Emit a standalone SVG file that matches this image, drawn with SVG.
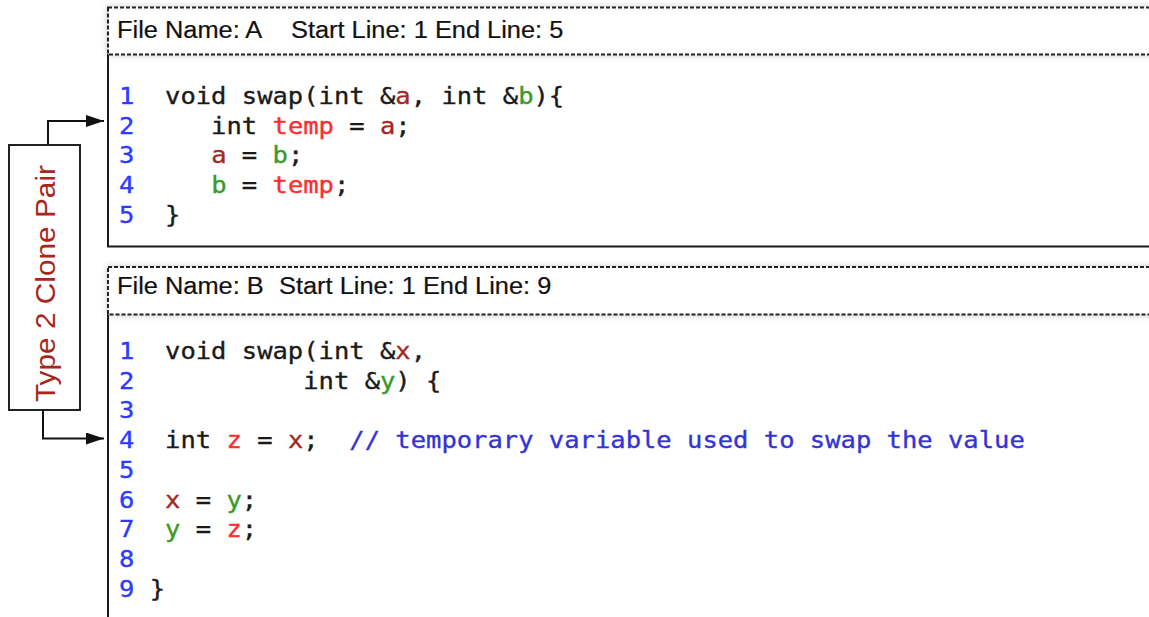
<svg xmlns="http://www.w3.org/2000/svg" width="1149" height="617" viewBox="0 0 1149 617">
  <style>
    .hdr { font-family: "Liberation Sans", Arial, sans-serif; font-size: 23.3px; fill: #111111; stroke: #111111; stroke-width: 0.2; }
    .code { font-family: "DejaVu Sans Mono", "Liberation Mono", monospace; font-size: 23.4px; fill: #1a1a1a; stroke: #1a1a1a; stroke-width: 0.35; white-space: pre; }
    .ln { fill: #2b3bff; stroke: #2b3bff; }
    .p1 { fill: #a3281f; stroke: #a3281f; }
    .p2 { fill: #3a9a28; stroke: #3a9a28; }
    .tmp { fill: #ff2d2d; stroke: #ff2d2d; }
    .cmt { fill: #3333d6; stroke: #3333d6; }
    .dash { fill: #ffffff; stroke: #222222; stroke-width: 2; stroke-dasharray: 4 2; }
    .solid { fill: none; stroke: #1a1a1a; stroke-width: 2; }
    .conn { fill: none; stroke: #111111; stroke-width: 2; }
    .lbl { font-family: "Liberation Sans", Arial, sans-serif; font-size: 27px; fill: #a8261c; }
  </style>
  <defs>
    <filter id="soft" x="-5%" y="-40%" width="110%" height="180%">
      <feDropShadow dx="0" dy="0" stdDeviation="3" flood-color="#000000" flood-opacity="0.22"/>
    </filter>
    <marker id="arrow" markerUnits="userSpaceOnUse" markerWidth="18" markerHeight="12" refX="18" refY="6" orient="auto">
      <path d="M0,0 L18,6 L0,12 Z" fill="#111111"/>
    </marker>
  </defs>

  <rect width="1149" height="617" fill="#ffffff"/>

  <!-- File A -->
  <g id="fileA">
    <line class="solid" x1="108" y1="54" x2="108" y2="246.5"/>
    <line class="solid" x1="107" y1="246.5" x2="1160" y2="246.5"/>
    <rect class="dash" x="108" y="7.5" width="1080" height="47" filter="url(#soft)"/>
    <g transform="matrix(1.09 0 0 1 117 0)">
      <text class="hdr" x="0" y="38.5">File Name: A<tspan x="159.6">Start Line: 1 End Line: 5</tspan></text>
    </g>
    <g transform="matrix(1.09 0 0 1 119 0)">
      <text class="code" xml:space="preserve" x="0" y="104"><tspan class="ln">1</tspan>  void swap(int &amp;<tspan class="p1">a</tspan>, int &amp;<tspan class="p2">b</tspan>){</text>
      <text class="code" xml:space="preserve" x="0" y="133.75"><tspan class="ln">2</tspan>     int <tspan class="tmp">temp</tspan> = <tspan class="p1">a</tspan>;</text>
      <text class="code" xml:space="preserve" x="0" y="163.5"><tspan class="ln">3</tspan>     <tspan class="p1">a</tspan> = <tspan class="p2">b</tspan>;</text>
      <text class="code" xml:space="preserve" x="0" y="193.25"><tspan class="ln">4</tspan>     <tspan class="p2">b</tspan> = <tspan class="tmp">temp</tspan>;</text>
      <text class="code" xml:space="preserve" x="0" y="223"><tspan class="ln">5</tspan>  }</text>
    </g>
  </g>

  <!-- File B -->
  <g id="fileB">
    <line class="solid" x1="108" y1="314" x2="108" y2="620"/>
    <rect class="dash" x="108" y="267" width="1080" height="47.5" filter="url(#soft)"/>
    <g transform="matrix(1.09 0 0 1 117 0)">
      <text class="hdr" x="0" y="294.5">File Name: B<tspan x="148.6">Start Line: 1 End Line: 9</tspan></text>
    </g>
    <g transform="matrix(1.09 0 0 1 119 0)">
      <text class="code" xml:space="preserve" x="0" y="359"><tspan class="ln">1</tspan>  void swap(int &amp;<tspan class="p1">x</tspan>,</text>
      <text class="code" xml:space="preserve" x="0" y="388.75"><tspan class="ln">2</tspan>           int &amp;<tspan class="p2">y</tspan>) {</text>
      <text class="code" xml:space="preserve" x="0" y="418.5"><tspan class="ln">3</tspan></text>
      <text class="code" xml:space="preserve" x="0" y="448.25"><tspan class="ln">4</tspan>  int <tspan class="tmp">z</tspan> = <tspan class="p1">x</tspan>;  <tspan class="cmt">// temporary variable used to swap the value</tspan></text>
      <text class="code" xml:space="preserve" x="0" y="478"><tspan class="ln">5</tspan></text>
      <text class="code" xml:space="preserve" x="0" y="507.75"><tspan class="ln">6</tspan>  <tspan class="p1">x</tspan> = <tspan class="p2">y</tspan>;</text>
      <text class="code" xml:space="preserve" x="0" y="537.5"><tspan class="ln">7</tspan>  <tspan class="p2">y</tspan> = <tspan class="tmp">z</tspan>;</text>
      <text class="code" xml:space="preserve" x="0" y="567.25"><tspan class="ln">8</tspan></text>
      <text class="code" xml:space="preserve" x="0" y="597"><tspan class="ln">9</tspan> }</text>
    </g>
  </g>

  <!-- Clone pair label -->
  <g id="clonePair">
    <rect x="9" y="145" width="71" height="265" fill="#ffffff" stroke="#222222" stroke-width="2"/>
    <text class="lbl" transform="translate(55 283.5) rotate(-90)" text-anchor="middle" textLength="237" lengthAdjust="spacingAndGlyphs">Type 2 Clone Pair</text>
  </g>

  <!-- Connectors -->
  <g id="connectors">
    <path class="conn" d="M48,145 V121 H104" marker-end="url(#arrow)"/>
    <path class="conn" d="M43,410 V438.5 H104" marker-end="url(#arrow)"/>
  </g>
</svg>
